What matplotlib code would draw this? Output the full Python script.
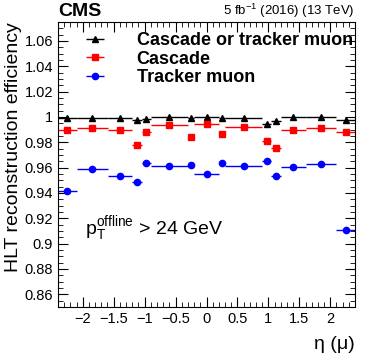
import numpy as np
import matplotlib
matplotlib.use("Agg")
import matplotlib.pyplot as plt
from matplotlib.ticker import MultipleLocator

plt.rcParams['font.family'] = ['Liberation Sans', 'DejaVu Sans']

# eta bins of the measurement
eta_edges = np.array([-2.4, -2.1, -1.6, -1.2, -1.05, -0.9, -0.3, -0.2,
                      0.2, 0.3, 0.9, 1.05, 1.2, 1.6, 2.1, 2.4])
eta_center = 0.5 * (eta_edges[1:] + eta_edges[:-1])
eta_half = 0.5 * (eta_edges[1:] - eta_edges[:-1])

eff_combined = [0.9991, 0.9996, 0.9996, 0.9978, 0.9986, 0.9999, 0.9993, 1.0000,
                0.9991, 0.9996, 0.9944, 0.9965, 0.9999, 0.9999, 0.9978]
eff_cascade = [0.9894, 0.9917, 0.9899, 0.9781, 0.9878, 0.9939, 0.9842, 0.9944,
               0.9868, 0.9925, 0.9807, 0.9752, 0.9894, 0.9912, 0.9881]
eff_tracker = [0.9413, 0.9590, 0.9537, 0.9490, 0.9639, 0.9610, 0.9618, 0.9548,
               0.9637, 0.9616, 0.9655, 0.9532, 0.9602, 0.9631, 0.9104]

labels = ['Cascade or tracker muon', 'Cascade', 'Tracker muon']

W, H = 374, 360
fig = plt.figure(figsize=(W / 100, H / 100), dpi=100)
ax = fig.add_axes([58 / W, 1 - 307 / H, 297 / W, 285 / H])

series = [(eff_combined, 'black', '^'), (eff_cascade, 'red', 's'), (eff_tracker, 'blue', 'o')]
for (vals, col, mk), lab in zip(series, labels):
    ax.errorbar(eta_center, vals, xerr=eta_half, fmt=mk, color=col, ms=4.5,
                elinewidth=1, capsize=0, label=lab)

ax.set_xlim(-2.4, 2.4)
ax.set_ylim(0.85, 1.075)
ax.xaxis.set_minor_locator(MultipleLocator(0.1))
ax.yaxis.set_minor_locator(MultipleLocator(0.005))
ax.tick_params(which='both', direction='in', top=True, right=True, labelsize=10.5)
ax.tick_params(which='major', length=7)
ax.tick_params(which='minor', length=3.5)
ax.set_xticks([-2, -1.5, -1, -0.5, 0, 0.5, 1, 1.5, 2])
ax.set_xticklabels(['\u22122', '\u22121.5', '\u22121', '\u22120.5', '0', '0.5', '1', '1.5', '2'])
yt = np.arange(0.86, 1.061, 0.02)
ax.set_yticks(yt)
ax.set_yticklabels(['%g' % round(v, 2) for v in yt])

ax.set_ylabel('HLT reconstruction efficiency', fontsize=14, loc='top', labelpad=2)
ax.set_xlabel('\u03b7 (\u03bc)', fontsize=14, loc='right', labelpad=7)

leg = ax.legend(loc='upper left', bbox_to_anchor=(0.0, 1.016), frameon=False,
                prop={'weight': 'bold', 'size': 13}, handlelength=2.5,
                handletextpad=1.05, labelspacing=0.1, borderpad=0.3)

ax.text(0.09, 0.277, r'$\mathregular{p_T^{offline}}$ > 24 GeV', transform=ax.transAxes,
        fontsize=14, va='center')
fig.text(58 / W, 1 - 20 / H, 'CMS', fontsize=14, weight='bold', va='bottom')
fig.text(355 / W, 1 - 20 / H, r'5 fb$^{\mathregular{-1}}$ (2016) (13 TeV)', fontsize=9.5,
         ha='right', va='bottom')

fig.savefig('out.png', dpi=100)
